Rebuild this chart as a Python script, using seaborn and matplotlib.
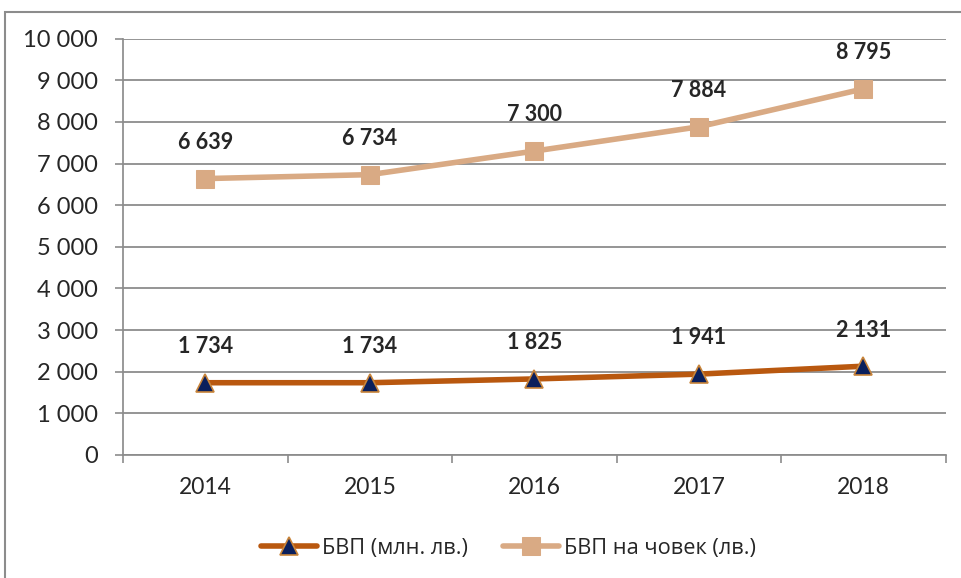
import numpy as np
import pandas as pd
import matplotlib
matplotlib.use("Agg")
import matplotlib.pyplot as plt
from matplotlib.patches import Rectangle
import seaborn as sns

years = ["2014", "2015", "2016", "2017", "2018"]
gdp = [1734, 1734, 1825, 1941, 2131]
gdp_per_cap = [6639, 6734, 7300, 7884, 8795]
gdp_lbl = ["1 734", "1 734", "1 825", "1 941", "2 131"]
cap_lbl = ["6 639", "6 734", "7 300", "7 884", "8 795"]
name_gdp = "БВП (млн. лв.)"
name_cap = "БВП на човек (лв.)"

sns.set_theme(style="white")
plt.rcParams['font.family'] = ['Lato', 'Open Sans', 'DejaVu Sans']

df = pd.DataFrame({"x": np.arange(len(years)), "gdp": gdp, "cap": gdp_per_cap})

fig = plt.figure(figsize=(9.62, 5.78), dpi=100)
ax = fig.add_axes([0.128, 0.213, 0.855, 0.72])

# chart area border
fig.patches.append(Rectangle((0.005, -0.1), 1.2, 1.079, transform=fig.transFigure,
                             fill=False, edgecolor="#8c8c8c", lw=1.5))

orange = "#B9580F"
tan = "#D9AA84"
navy = "#0A1F5C"

sns.lineplot(data=df, x="x", y="gdp", ax=ax, color=orange, lw=4, marker="^",
             markersize=13, markerfacecolor=navy, markeredgecolor="#C8843A",
             markeredgewidth=1.2, label=name_gdp)
sns.lineplot(data=df, x="x", y="cap", ax=ax, color=tan, lw=4, marker="s",
             markersize=13, markerfacecolor=tan, markeredgecolor=tan,
             label=name_cap)

for i in range(len(years)):
    ax.annotate(gdp_lbl[i], (i, gdp[i]), xytext=(0, 26), textcoords="offset points",
                ha="center", va="center", fontsize=15.5, fontweight="bold")
    ax.annotate(cap_lbl[i], (i, gdp_per_cap[i]), xytext=(0, 26), textcoords="offset points",
                ha="center", va="center", fontsize=15.5, fontweight="bold")

ax.set_xlim(-0.5, len(years) - 0.5)
ax.set_ylim(0, 10000)
ax.set_yticks(range(0, 10001, 1000))
ax.set_yticklabels(["0"] + [f"{v // 1000} 000" for v in range(1000, 10001, 1000)], fontsize=17)
ax.set_xticks(range(len(years)))
ax.set_xticklabels(years, fontsize=16.5)
ax.set_xticks(np.arange(-0.5, len(years), 1), minor=True)
ax.set_xlabel("")
ax.set_ylabel("")
ax.grid(axis="y", color="#8c8c8c", lw=1.3)
ax.set_axisbelow(True)
for s in ["top", "right"]:
    ax.spines[s].set_visible(False)
ax.spines["left"].set_color("#8c8c8c")
ax.spines["bottom"].set_color("#8c8c8c")
ax.tick_params(axis="x", which="major", length=0, pad=16)
ax.tick_params(axis="x", which="minor", bottom=True, length=6, width=1.2, color="#8c8c8c")
ax.tick_params(axis="y", left=True, length=6, width=1.2, color="#8c8c8c", pad=12)

ax.legend(loc="center", bbox_to_anchor=(0.468, -0.224), ncol=2, frameon=False,
          prop={"family": ["Open Sans", "DejaVu Sans"], "size": 15.7},
          handlelength=2.6, columnspacing=1.6, handletextpad=0.2)

fig.savefig("out.png", dpi=100)
